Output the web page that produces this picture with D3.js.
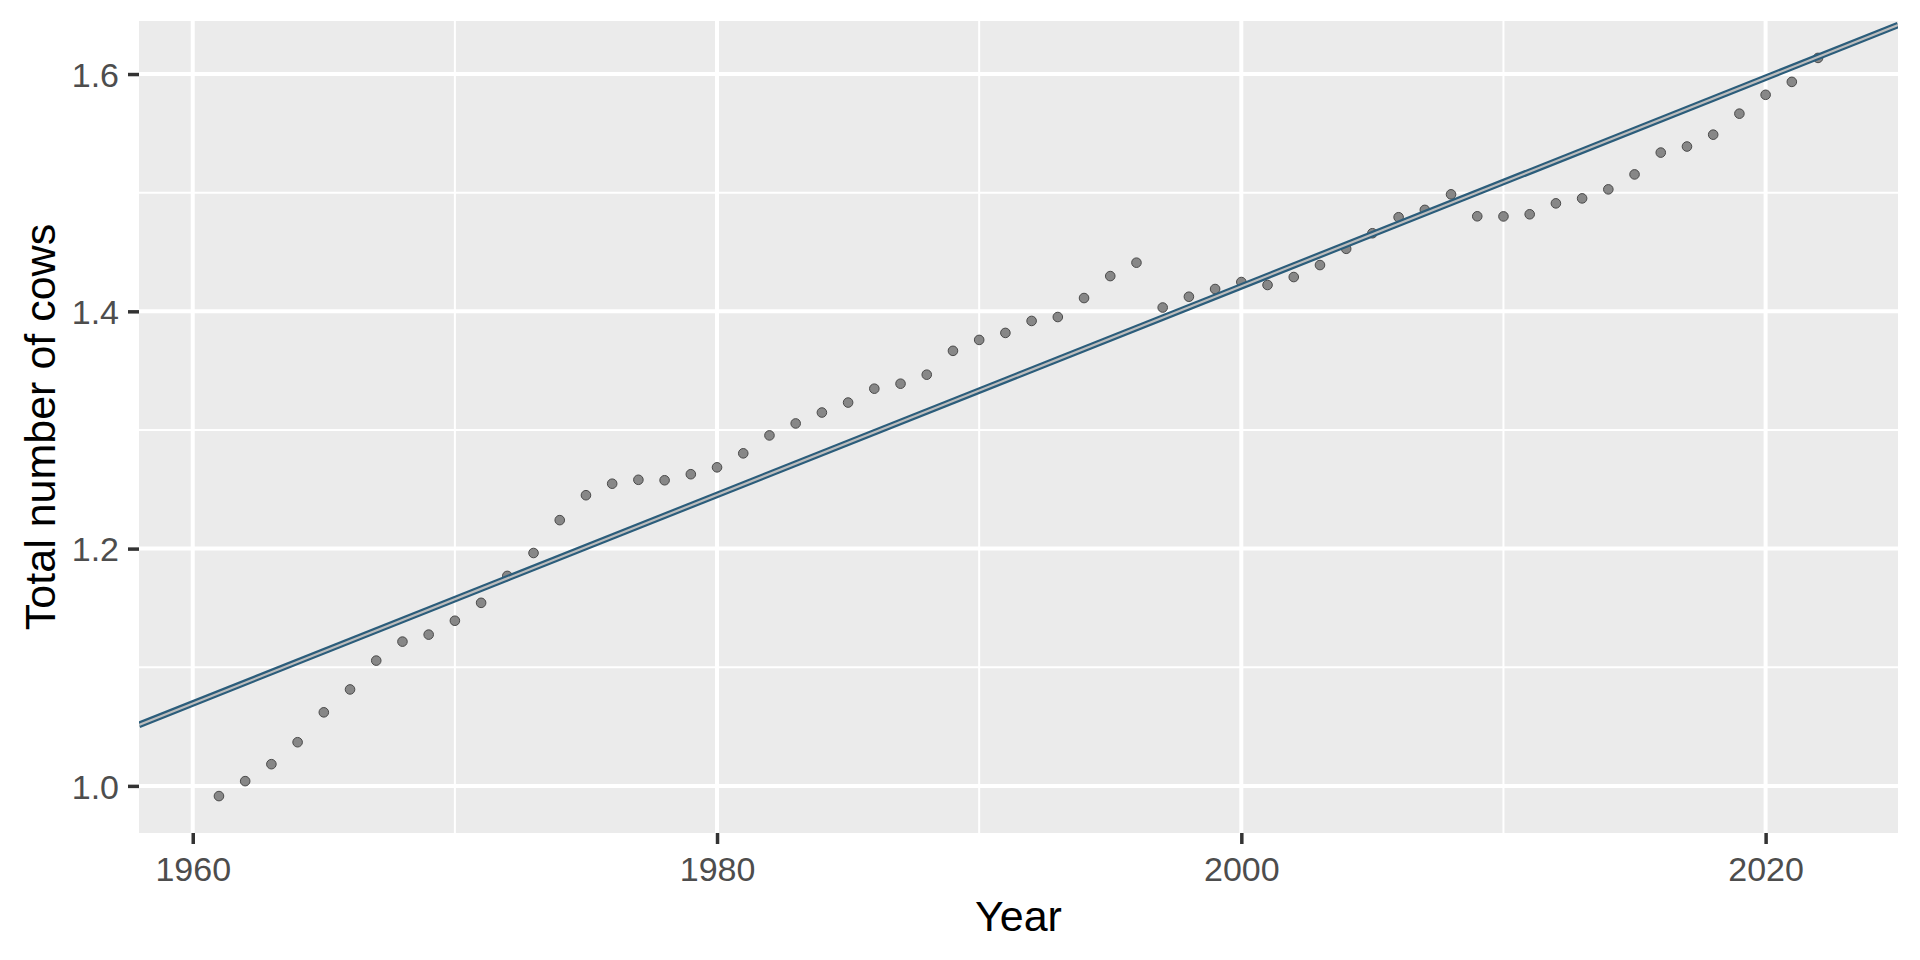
<!DOCTYPE html>
<html>
<head>
<meta charset="utf-8">
<script src="https://cdn.jsdelivr.net/npm/d3@7"></script>
<style>
  html, body { margin: 0; padding: 0; background: #ffffff; }
  svg { display: block; }
</style>
</head>
<body>
<svg id="chart" width="1920" height="960"></svg>
<script>
// ---- data ----
const years = d3.range(1961, 2023);
const cows = [
  0.9914, 1.0040, 1.0183, 1.0368, 1.0620, 1.0813, 1.1056, 1.1216, 1.1275, 1.1392,
  1.1543, 1.1770, 1.1963, 1.2240, 1.2450, 1.2547, 1.2580, 1.2576, 1.2627, 1.2685,
  1.2803, 1.2954, 1.3055, 1.3147, 1.3231, 1.3348, 1.3390, 1.3466, 1.3667, 1.3759,
  1.3818, 1.3919, 1.3952, 1.4112, 1.4297, 1.4410, 1.4032, 1.4123, 1.4188, 1.4247,
  1.4222, 1.4289, 1.4390, 1.4527, 1.4658, 1.4793, 1.4855, 1.4986, 1.4801, 1.4800,
  1.4818, 1.4910, 1.4952, 1.5028, 1.5154, 1.5338, 1.5389, 1.5489, 1.5666, 1.5825,
  1.5934, 1.6136
];
const xMajorTicks = [1960, 1980, 2000, 2020];
const xMinorTicks = [1970, 1990, 2010];
const yMajorTicks = [1.0, 1.2, 1.4, 1.6];
const yMinorTicks = [1.1, 1.3, 1.5];
const xTitle = "Year";
const yTitle = "Total number of cows";

const data = years.map((y, i) => ({ year: y, value: cows[i] }));

// ---- layout ----
const panel = { left: 139, right: 1898, top: 21, bottom: 833 };
const svg = d3.select("#chart");

function expand(ext, mult) {
  const d = (ext[1] - ext[0]) * mult;
  return [ext[0] - d, ext[1] + d];
}
const x = d3.scaleLinear().domain(expand(d3.extent(years), 0.05)).range([panel.left, panel.right]);
const y = d3.scaleLinear().domain(expand(d3.extent(cows), 0.05)).range([panel.bottom, panel.top]);

// panel background
svg.append("rect")
  .attr("x", panel.left).attr("y", panel.top)
  .attr("width", panel.right - panel.left).attr("height", panel.bottom - panel.top)
  .attr("fill", "#EBEBEB");

const grid = svg.append("g");
// minor grid
grid.selectAll(".xminor").data(xMinorTicks).join("line")
  .attr("x1", d => x(d)).attr("x2", d => x(d))
  .attr("y1", panel.top).attr("y2", panel.bottom)
  .attr("stroke", "#ffffff").attr("stroke-width", 2);
grid.selectAll(".yminor").data(yMinorTicks).join("line")
  .attr("y1", d => y(d)).attr("y2", d => y(d))
  .attr("x1", panel.left).attr("x2", panel.right)
  .attr("stroke", "#ffffff").attr("stroke-width", 2);
// major grid
grid.selectAll(".xmajor").data(xMajorTicks).join("line")
  .attr("x1", d => x(d)).attr("x2", d => x(d))
  .attr("y1", panel.top).attr("y2", panel.bottom)
  .attr("stroke", "#ffffff").attr("stroke-width", 4);
grid.selectAll(".ymajor").data(yMajorTicks).join("line")
  .attr("y1", d => y(d)).attr("y2", d => y(d))
  .attr("x1", panel.left).attr("x2", panel.right)
  .attr("stroke", "#ffffff").attr("stroke-width", 4);

// points
svg.append("g").selectAll("circle").data(data).join("circle")
  .attr("cx", d => x(d.year)).attr("cy", d => y(d.value))
  .attr("r", 4.8)
  .attr("fill", "#878787")
  .attr("stroke", "#4a4a4a").attr("stroke-width", 1);

// linear regression (least squares) over full panel range
const mx = d3.mean(years), my = d3.mean(cows);
let sxy = 0, sxx = 0;
years.forEach((yr, i) => { sxy += (yr - mx) * (cows[i] - my); sxx += (yr - mx) * (yr - mx); });
const slope = sxy / sxx;
const intercept = my - slope * mx;
const xd = x.domain();
const fit = xd.map(v => ({ year: v, value: intercept + slope * v }));
const lineGen = d3.line().x(d => x(d.year)).y(d => y(d.value));

svg.append("clipPath").attr("id", "pclip").append("rect")
  .attr("x", panel.left).attr("y", panel.top)
  .attr("width", panel.right - panel.left).attr("height", panel.bottom - panel.top);

svg.append("path").datum(fit).attr("d", lineGen)
  .attr("clip-path", "url(#pclip)")
  .attr("fill", "none").attr("stroke", "#2B5D7B").attr("stroke-width", 6.5);
svg.append("path").datum(fit).attr("d", lineGen)
  .attr("clip-path", "url(#pclip)")
  .attr("fill", "none").attr("stroke", "#BDBDBD").attr("stroke-width", 2.2);

// axes
const font = "'Liberation Sans', Arial, sans-serif";
const xAxis = d3.axisBottom(x).tickValues(xMajorTicks).tickFormat(d3.format("d")).tickSize(11).tickPadding(8);
const gx = svg.append("g").attr("transform", `translate(0,${panel.bottom})`).call(xAxis);
gx.select(".domain").remove();
gx.selectAll(".tick line").attr("stroke", "#333333").attr("stroke-width", 3.5);
gx.selectAll(".tick text").attr("fill", "#4D4D4D").attr("font-size", 34).attr("font-family", font)
  .attr("dy", null).attr("y", 48);

const yAxis = d3.axisLeft(y).tickValues(yMajorTicks).tickFormat(d3.format(".1f")).tickSize(11).tickPadding(8);
const gy = svg.append("g").attr("transform", `translate(${panel.left},0)`).call(yAxis);
gy.select(".domain").remove();
gy.selectAll(".tick line").attr("stroke", "#333333").attr("stroke-width", 3.5);
gy.selectAll(".tick text").attr("fill", "#4D4D4D").attr("font-size", 34).attr("font-family", font)
  .attr("x", -20).attr("dy", "0.36em");

// axis titles
svg.append("text")
  .attr("x", (panel.left + panel.right) / 2).attr("y", 931)
  .attr("text-anchor", "middle")
  .attr("font-size", 43).attr("font-family", font).attr("fill", "#000000")
  .text(xTitle);
svg.append("text")
  .attr("transform", `translate(55,${(panel.top + panel.bottom) / 2}) rotate(-90)`)
  .attr("text-anchor", "middle")
  .attr("font-size", 43).attr("font-family", font).attr("fill", "#000000")
  .text(yTitle);
</script>
</body>
</html>
